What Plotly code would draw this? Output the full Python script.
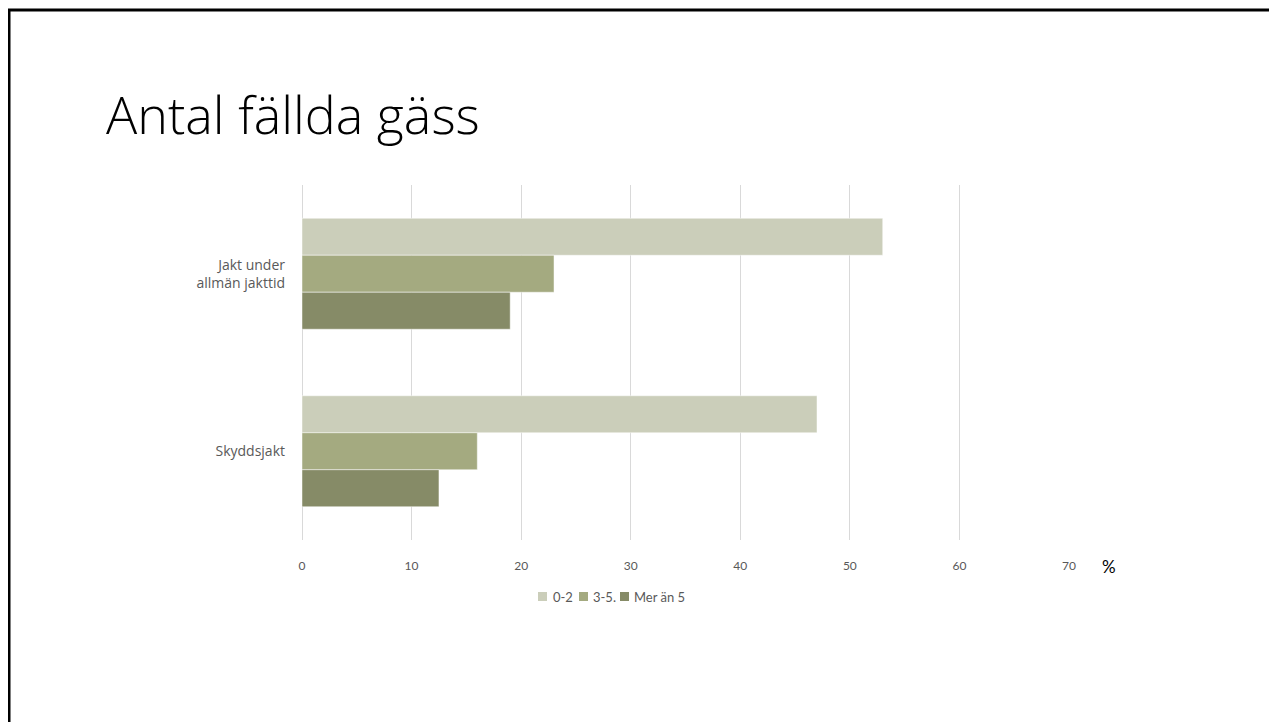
import plotly.graph_objects as go

categories = ["Jakt under<br>allmän jakttid", "Skyddsjakt"]
series_names = ["0-2", "3-5.", "Mer än 5"]
values_0_2 = [53, 47]
values_3_5 = [23, 16]
values_mer = [19, 12.5]
tick_vals = [0, 10, 20, 30, 40, 50, 60, 70]

colors = ["#CBCEBA", "#A4AA80", "#868B67"]
series_values = [values_0_2, values_3_5, values_mer]

fig = go.Figure()
for name, vals, col in zip(series_names, series_values, colors):
    fig.add_trace(go.Bar(
        y=categories, x=vals, name=name, orientation="h", showlegend=False,
        marker=dict(color=col, line=dict(color="rgba(255,255,255,0.6)", width=0.8)),
    ))

OFF = 8  # page body margin
W, H = 1277 - OFF, 722 - OFF
L, R, T, B = 302 - OFF, 208, 185 - OFF, 182
pw, ph = W - L - R, H - T - B

def px_x(px):
    return (px - OFF - L) / pw

def px_y(py):
    return (H - B - (py - OFF)) / ph

# custom legend (tight spacing like the reference)
legend_sq_x = [538, 579, 620]
legend_txt_x = [551, 591, 632]
shapes = [
    dict(type="path", xref="paper", yref="paper",
         path=f"M {px_x(9)} {px_y(760)} L {px_x(9)} {px_y(10)} L {px_x(1320)} {px_y(10)}",
         line=dict(color="#000000", width=3)),
]
annotations = [
    dict(text="Antal fällda gäss", xref="paper", yref="paper", x=px_x(104), y=px_y(113),
         xanchor="left", yanchor="middle", showarrow=False,
         font=dict(family="Open Sans", size=52, color="#000000", weight=300)),
    dict(text="%", xref="paper", yref="paper", x=px_x(1109), y=px_y(566),
         xanchor="center", yanchor="middle", showarrow=False,
         font=dict(family="Lato", size=17, color="#000000")),
]
for name, col, sx, tx in zip(series_names, colors, legend_sq_x, legend_txt_x):
    shapes.append(dict(type="rect", xref="paper", yref="paper",
                       x0=px_x(sx), x1=px_x(sx + 9), y0=px_y(601), y1=px_y(592),
                       fillcolor=col, line=dict(width=0)))
    annotations.append(dict(text=name, xref="paper", yref="paper", x=px_x(tx), y=px_y(597),
                            xanchor="left", yanchor="middle", showarrow=False,
                            font=dict(family="Lato", size=13, color="#595959")))

fig.update_layout(
    width=W, height=H,
    margin=dict(l=L, r=R, t=T, b=B, autoexpand=False),
    paper_bgcolor="white", plot_bgcolor="white",
    barmode="group", bargap=0.375, bargroupgap=0,
    font=dict(family="Lato", color="#595959", size=12),
    xaxis=dict(range=[0, 70], tickvals=tick_vals, showgrid=True, gridcolor="#D9D9D9",
               gridwidth=1, zeroline=True, zerolinecolor="#D9D9D9", zerolinewidth=1,
               showline=False, ticks="",
               ticklabelstandoff=17, tickfont=dict(size=12, color="#595959")),
    yaxis=dict(autorange="reversed", showgrid=False, zeroline=False, showline=False,
               ticks="", ticklabelstandoff=16,
               tickfont=dict(family="Open Sans", size=14, color="#595959")),
    showlegend=False,
    annotations=annotations,
    shapes=shapes,
)

fig.write_html("out.html")
